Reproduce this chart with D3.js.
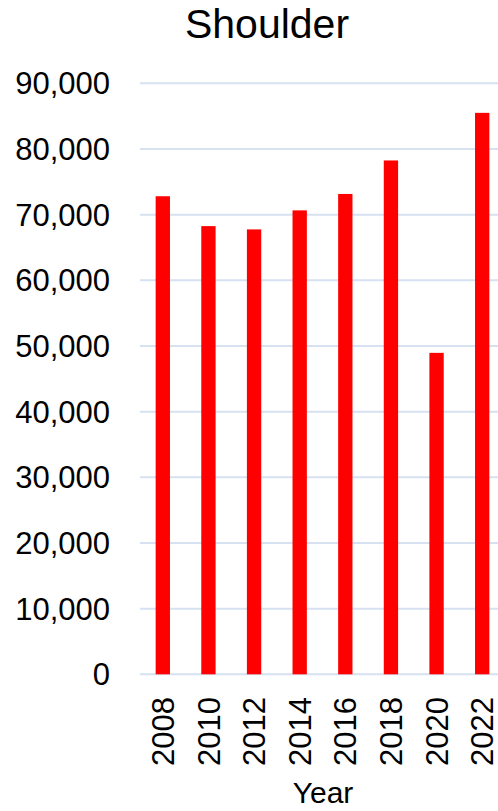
<!DOCTYPE html>
<html><head><meta charset="utf-8">
<script src="https://cdn.jsdelivr.net/npm/d3@7"></script>
<style>body{margin:0;background:#fff}svg{display:block}text{font-family:"Liberation Sans",Arial,sans-serif;fill:#000}</style>
</head><body>
<script>
const years = ["2008","2010","2012","2014","2016","2018","2020","2022"];
const values = [72800, 68250, 67750, 70650, 73150, 78250, 48950, 85500];
const yTicks = [0,10000,20000,30000,40000,50000,60000,70000,80000,90000];
const title = "Shoulder";
const xTitle = "Year";

const W = 498, H = 811;
const svg = d3.select("body").append("svg").attr("width", W).attr("height", H);
const x = d3.scaleBand().domain(years).range([140, 505]).paddingInner(0.686).paddingOuter(0.343);
const y = d3.scaleLinear().domain([0, 90000]).range([674.3, 83.3]);

// gridlines
svg.append("g").selectAll("line").data(yTicks).join("line")
  .attr("x1", 140).attr("x2", W)
  .attr("y1", d => y(d)).attr("y2", d => y(d))
  .attr("stroke", "#d6e1f1").attr("stroke-width", 2);

// y labels
const fmt = d3.format(",");
svg.append("g").selectAll("text").data(yTicks).join("text")
  .attr("x", 110).attr("y", d => y(d)).attr("dy", "0.36em")
  .attr("text-anchor", "end").attr("font-size", 31).text(d => fmt(d));

// bars
svg.append("g").selectAll("rect").data(values).join("rect")
  .attr("x", (d, i) => x(years[i])).attr("width", x.bandwidth())
  .attr("y", d => y(d)).attr("height", d => y(0) - y(d))
  .attr("fill", "#ff0000");

// x labels rotated
svg.append("g").selectAll("text").data(years).join("text")
  .attr("transform", d => `translate(${x(d) + x.bandwidth()/2},697) rotate(-90)`)
  .attr("text-anchor", "end").attr("dy", "0.36em").attr("font-size", 31).text(d => d);

svg.append("text").attr("x", 323).attr("y", 803).attr("text-anchor", "middle")
  .attr("font-size", 30).text(xTitle);
svg.append("text").attr("x", 267).attr("y", 38).attr("text-anchor", "middle")
  .attr("font-size", 41).text(title);
</script>
</body></html>
